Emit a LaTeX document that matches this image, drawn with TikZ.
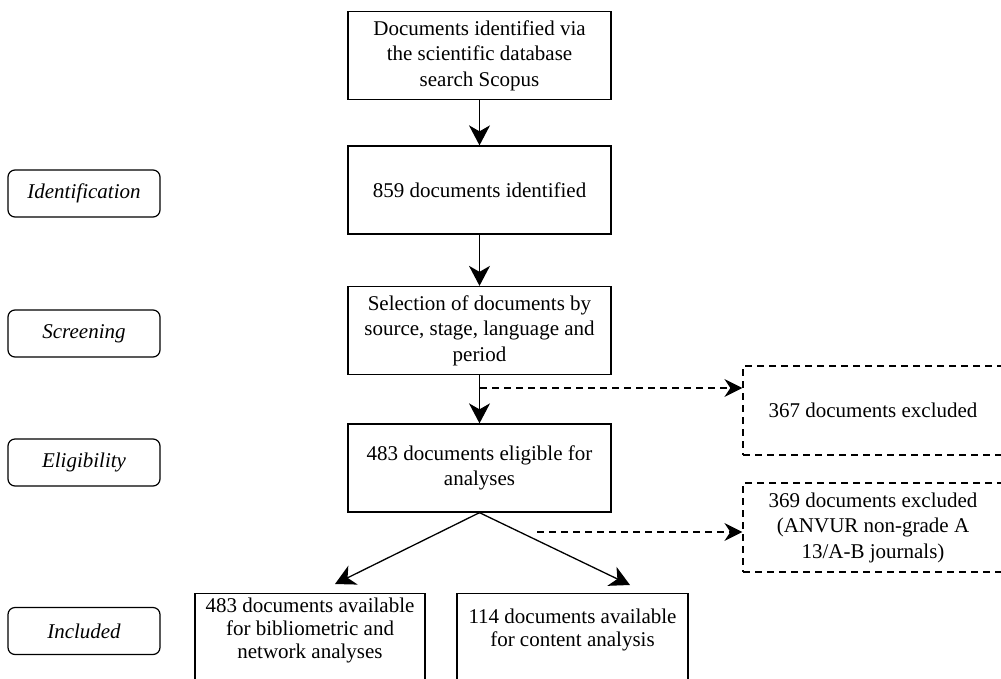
\documentclass[tikz,border=0pt]{standalone}
\usepackage{fontspec}
\setmainfont{Liberation Serif}
\usetikzlibrary{arrows.meta}
\begin{document}
\begin{tikzpicture}[x=1pt,y=-1pt,
  every node/.style={font=\fontsize{21}{25.5}\selectfont, align=center, inner sep=0pt},
  mainbox/.style={draw, line width=1.3pt, minimum width=263pt, minimum height=88pt},
  bottombox/.style={draw, line width=1.3pt, minimum height=100pt, anchor=north},
  stagebox/.style={draw, line width=1.2pt, rounded corners=7pt, minimum width=152pt, minimum height=47pt, font=\fontsize{21}{25.5}\selectfont\itshape},
  exbox/.style={draw, line width=1.2pt, dash pattern=on 7pt off 5pt, minimum width=260pt, minimum height=89pt},
  arr/.style={line width=1.3pt, -{Stealth[length=20pt, width=21pt, inset=6pt]}},
  darr/.style={line width=1.3pt, dash pattern=on 7pt off 5pt, -{Stealth[length=18pt, width=18pt, inset=6pt]}}
]
\useasboundingbox (0,0) rectangle (1001,678);

% main column
\node[mainbox] (b1) at (479.5,55.5) {Documents identified via\\the scientific database\\search Scopus};
\node[mainbox] (b2) at (479.5,190) {859 documents identified};
\node[mainbox] (b3) at (479.5,330.5) {Selection of documents by\\source, stage, language and\\period};
\node[mainbox] (b4) at (479.5,468) {483 documents eligible for\\analyses};

% bottom boxes (cut by the page edge)
\node[bottombox, minimum width=230pt] (b5) at (310,593) {};
\node[font=\fontsize{21}{23}\selectfont] (t5) at (310,630) {483 documents available\\for bibliometric and\\network analyses};
\node[bottombox, minimum width=231pt] (b6) at (572.5,593) {};
\node[font=\fontsize{21}{23}\selectfont] (t6) at (572.5,630) {114 documents available\\for content analysis};

% excluded boxes
\node[exbox] (e1) at (873,410.5) {367 documents excluded};
\node[exbox] (e2) at (873,527.5) {369 documents excluded\\(ANVUR non-grade A\\13/A-B journals)};

% stage boxes
\node[stagebox] (s1) at (84,193.5) {Identification};
\node[stagebox] (s2) at (84,333.5) {Screening};
\node[stagebox] (s3) at (84,462.5) {Eligibility};
\node[stagebox] (s4) at (84,631) {Included};

% connectors
\draw[arr] (b1.south) -- (b2.north);
\draw[arr] (b2.south) -- (b3.north);
\draw[arr] (b3.south) -- (b4.north);

\coordinate (d1) at (480,388);
\draw[darr] (d1) -- (e1.west |- d1);
\coordinate (d2) at (537,532);
\draw[darr] (d2) -- (e2.west |- d2);

\coordinate (tl) at (335,584);
\coordinate (tr) at (630,585);
\draw[arr] (b4.south) -- (tl);
\draw[arr] (b4.south) -- (tr);
\end{tikzpicture}
\end{document}
